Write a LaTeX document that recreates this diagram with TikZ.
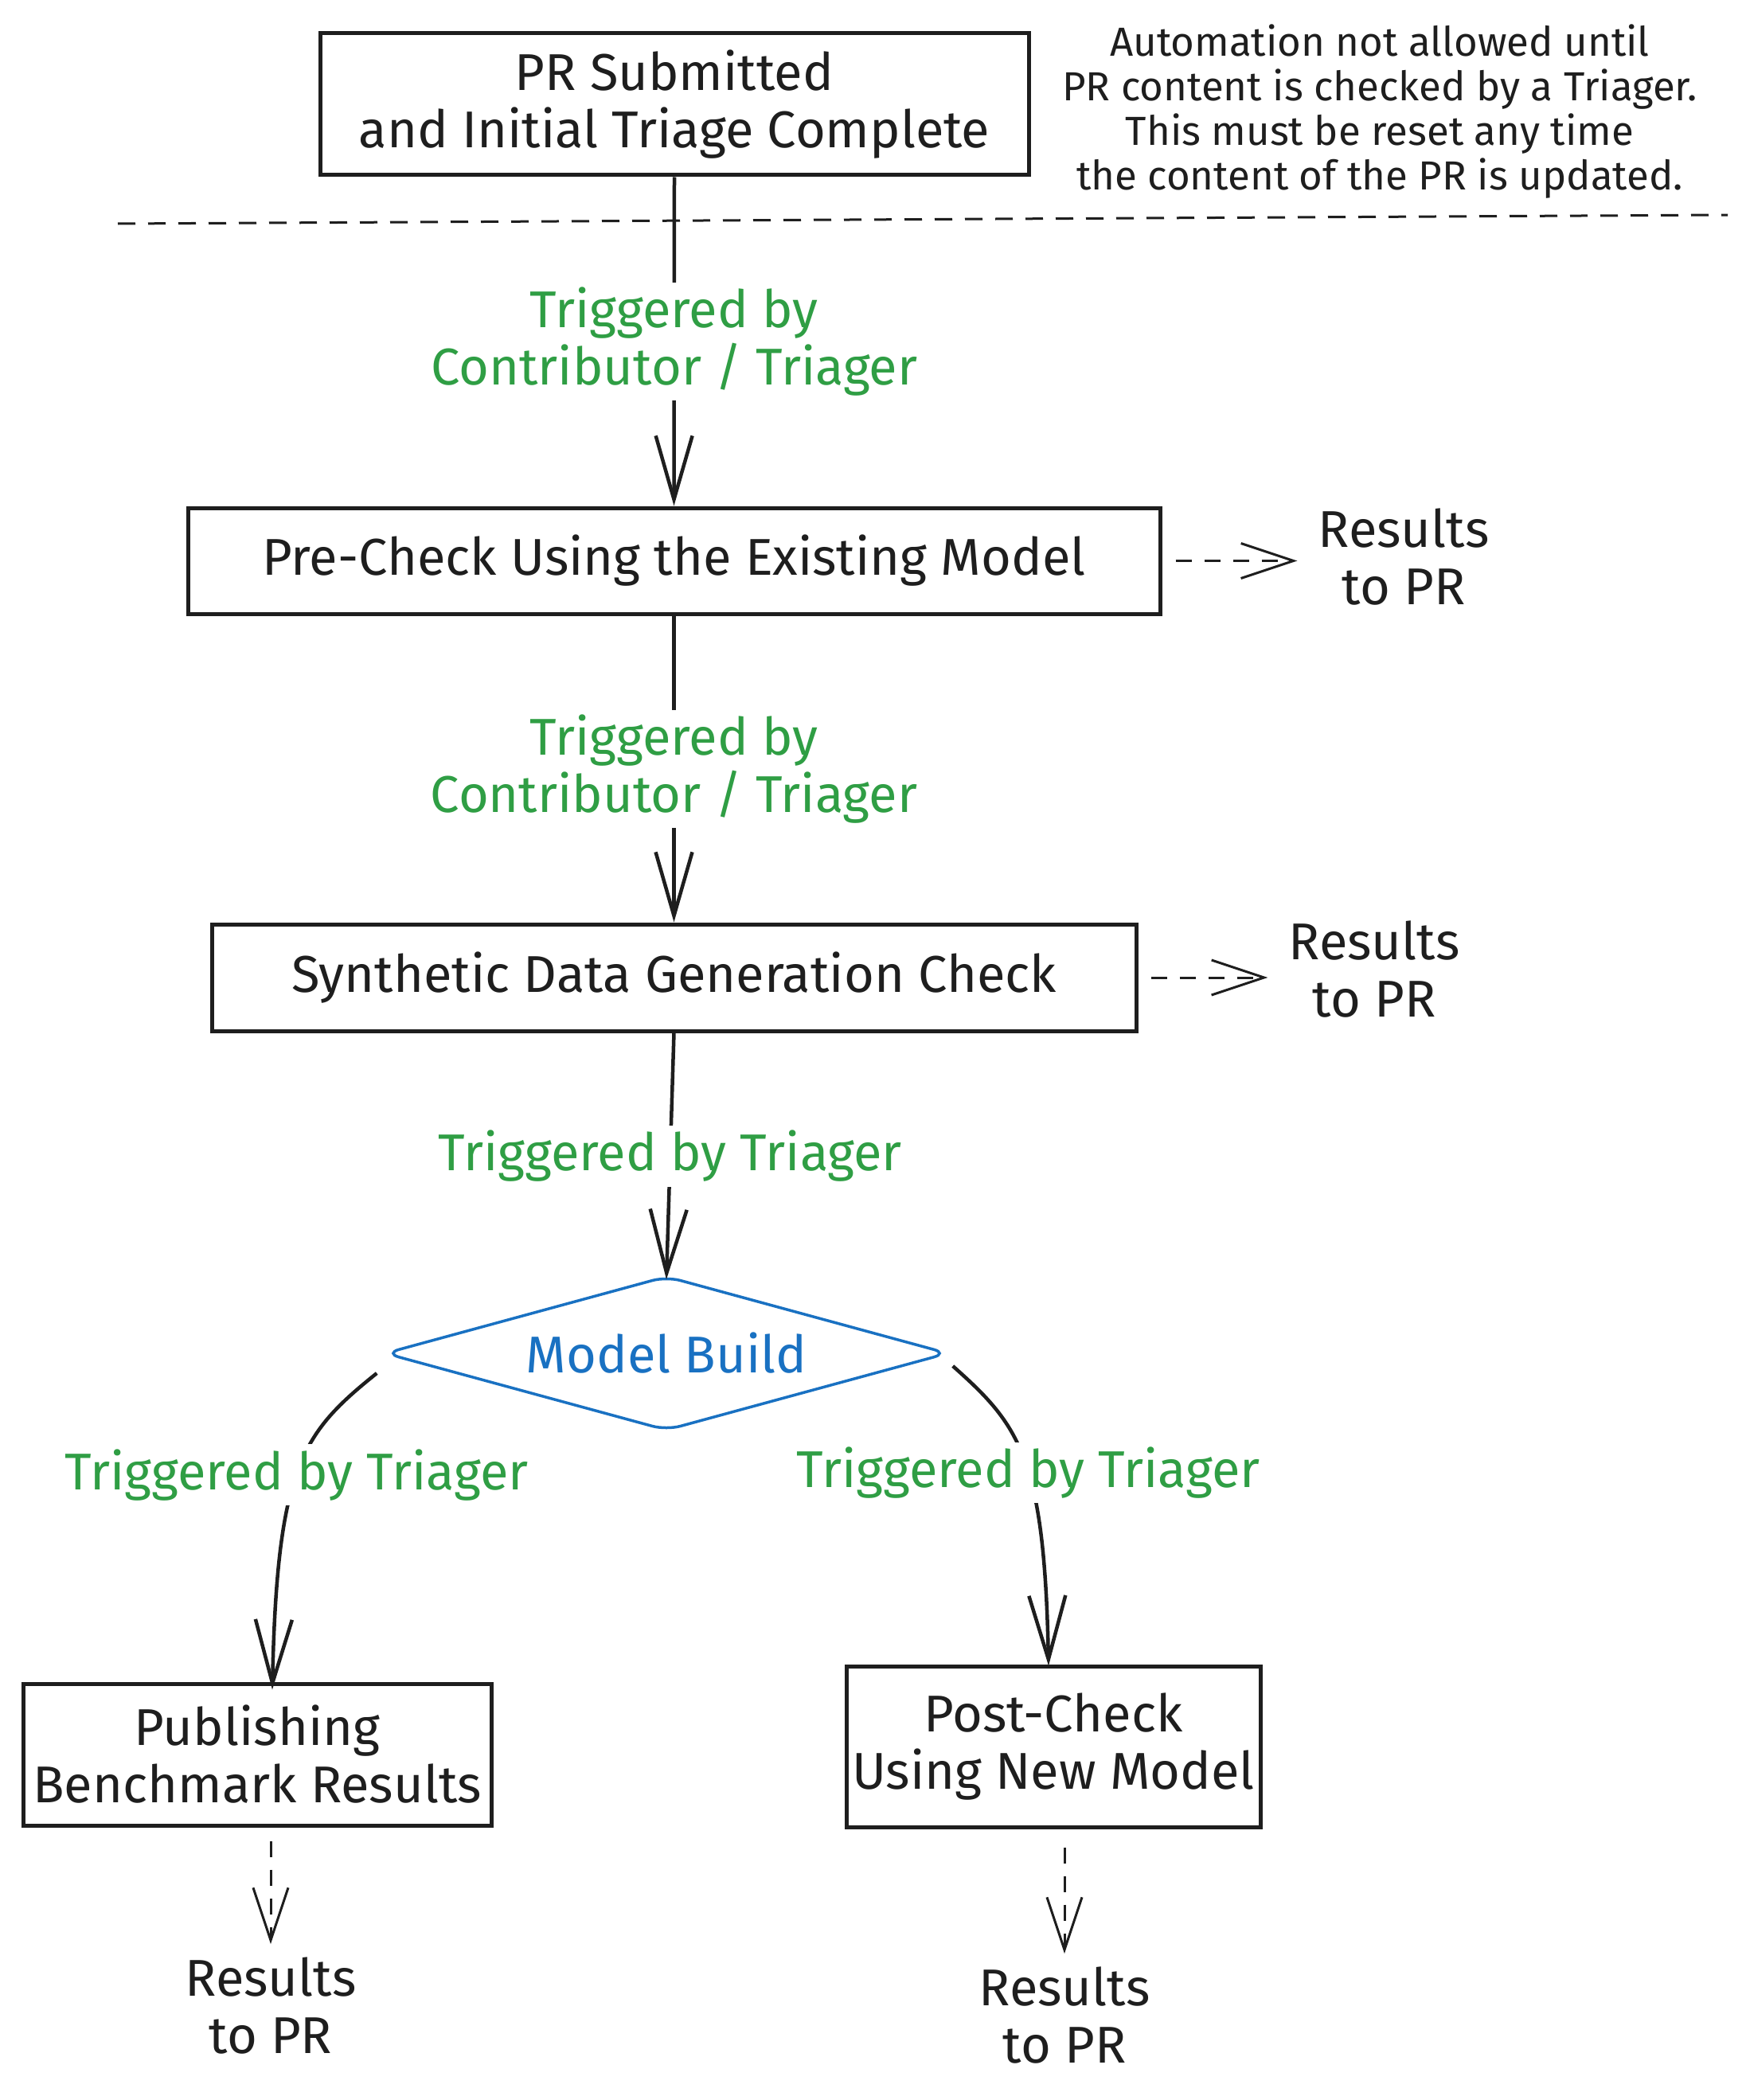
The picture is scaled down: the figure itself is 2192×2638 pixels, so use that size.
\documentclass[tikz,border=0pt]{standalone}
\usepackage{fontspec}
\setmainfont{Fira Sans}
\usetikzlibrary{arrows.meta,shapes.geometric}
\definecolor{ink}{HTML}{1E1E1E}
\definecolor{grn}{HTML}{2F9E44}
\definecolor{blu}{HTML}{1971C2}
\newcommand\mainfs{\fontsize{65}{72}\selectfont}
\newcommand\notefs{\fontsize{51}{56}\selectfont}
\begin{document}
\begin{tikzpicture}[x=1pt,y=-1pt,
  box/.style={draw=ink,line width=5pt,rectangle,inner sep=0pt,align=center,text=ink,font=\mainfs},
  res/.style={text=ink,font=\mainfs,align=center,inner sep=4pt},
  lbl/.style={fill=white,text=grn,font=\mainfs,align=center,inner sep=6pt},
  arr/.style={draw=ink,line width=4.5pt,-{Straight Barb[length=80pt,width=46pt,line width=4.5pt]}},
  darr/.style={draw=ink,line width=3pt,dash pattern=on 20pt off 16pt,-{Straight Barb[length=66pt,width=44pt,line width=3pt]}}]
\useasboundingbox (0,0) rectangle (2192,2638);
\fill[white] (0,0) rectangle (2192,2638);

% boxes
\node[box,minimum width=890pt,minimum height=178pt] (b1) at (847,131) {PR Submitted\\and Initial Triage Complete};
\node[text=ink,font=\notefs,align=center] (note) at (1733,140) {Automation not allowed until\\PR content is checked by a Triager.\\This must be reset any time\\the content of the PR is updated.};
\coordinate (dl) at (148,281);
\coordinate (dr) at (2170,270);
\draw[ink,line width=3pt,dash pattern=on 22pt off 16pt] (dl) -- (dr);

\node[box,minimum width=1221pt,minimum height=133pt] (b2) at (846.5,704.5) {Pre-Check Using the Existing Model};
\node[res] (r2) at (1763,700) {Results\\to PR};

\node[box,minimum width=1161pt,minimum height=134pt] (b3) at (846.5,1228) {Synthetic Data Generation Check};
\node[res] (r3) at (1726,1218) {Results\\to PR};

\node[diamond,draw=blu,line width=3.5pt,text=blu,font=\mainfs,inner sep=0pt,
      minimum width=708pt,minimum height=194pt,shape aspect=3.65,rounded corners=18pt] (md) at (837,1700) {Model Build};

\node[box,minimum width=588pt,minimum height=178pt] (b4) at (323,2204) {Publishing\\Benchmark Results};
\node[res] (r4) at (340,2519) {Results\\to PR};

\node[box,minimum width=520pt,minimum height=202pt] (b5) at (1323,2194) {Post-Check\\Using New Model};
\node[res] (r5) at (1337,2531) {Results\\to PR};

% connectors
\draw[arr] (b1.south) -- node[lbl] {Triggered by\\Contributor / Triager} (b2.north);
\draw[arr] (b2.south) -- node[lbl] {Triggered by\\Contributor / Triager} (b3.north);
\draw[arr] (b3.south) -- node[lbl] {Triggered by Triager} ([yshift=-6]md.north);

\draw[arr] ([shift={(-8,25)}]md.west) .. controls (380,1800) and (348,1840) .. node[lbl,pos=0.52] {Triggered by Triager} ([xshift=19,yshift=-10]b4.north);
\draw[arr] ([shift={(4,16)}]md.east) .. controls (1280,1790) and (1312,1830) .. node[lbl,pos=0.55] {Triggered by Triager} ([xshift=-6,yshift=-2]b5.north);

\draw[darr,shorten <=17pt,shorten >=22pt] (b2.east) -- (r2.west |- b2.east);
\draw[darr,shorten <=16pt,shorten >=22pt] (b3.east) -- (r3.west |- b3.east);
\draw[darr,shorten <=17pt,shorten >=12pt] (b4.south -| r4.north) -- (r4.north);
\draw[darr,shorten <=23pt,shorten >=12pt] (b5.south -| r5.north) -- (r5.north);
\end{tikzpicture}
\end{document}
